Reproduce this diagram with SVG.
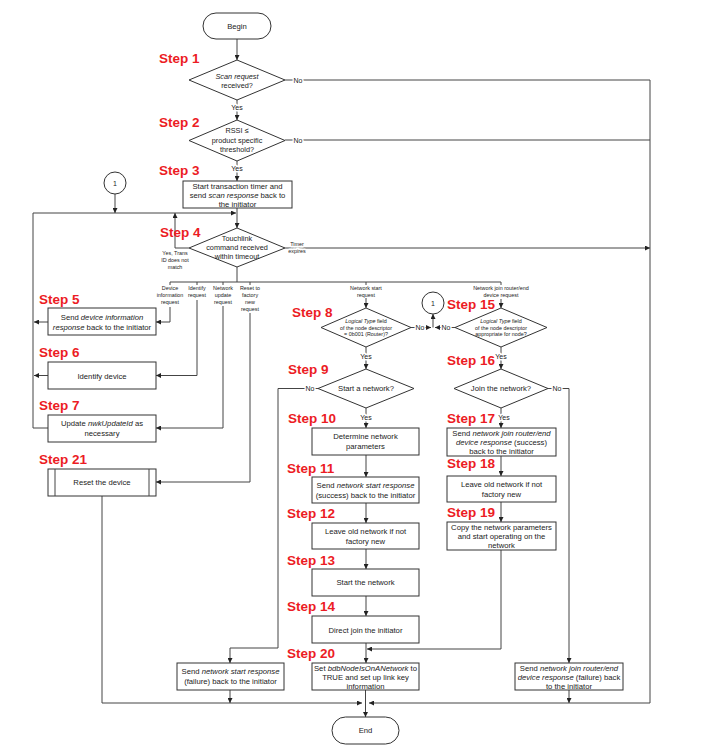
<svg xmlns="http://www.w3.org/2000/svg" width="720" height="751" viewBox="0 0 720 751">
<style>
.bg{fill:#fff}
.box{fill:#fff;stroke:#333;stroke-width:1}
.t{font-family:"Liberation Sans",Arial,sans-serif;font-size:7.7px;fill:#222;text-anchor:middle}
.d{font-size:7.3px}
.sm{font-size:5.4px}
.yn{font-size:7px}
.i{font-style:italic}
.step{font-family:"Liberation Sans",Arial,sans-serif;font-weight:bold;font-size:13.5px;fill:#ec1c24}
.ln{fill:none;stroke:#444;stroke-width:1}
.a{marker-end:url(#ah)}
.halo{paint-order:stroke;stroke:#fff;stroke-width:3px;stroke-linejoin:round}
</style>
<defs>
<marker id="ah" markerUnits="userSpaceOnUse" markerWidth="5" markerHeight="5" refX="5" refY="2.5" orient="auto">
<path d="M0,0 L5,2.5 L0,5 z" fill="#222"/>
</marker>
</defs>
<rect class="bg" width="720" height="751"/>

<g id="connectors">
<path class="ln a" d="M237,39 V60"/>
<path class="ln a" d="M237,100 V120"/>
<path class="ln" d="M285,80 H650"/>
<path class="ln a" d="M237,161 V181"/>
<path class="ln" d="M285,140 H650"/>
<path class="ln a" d="M237,208 V228"/>
<path class="ln a" d="M48,428 H33 V213 H236"/>
<path class="ln a" d="M115,194 V213"/>
<path class="ln a" d="M189,248 H175 V213"/>
<path class="ln a" d="M285,248 H650"/>
<path class="ln" d="M237,267 V282 M170,282 H501 M170,282 V285 M197,282 V285 M223,282 V285 M250,282 V285 M366,282 V285 M501,282 V285"/>
<path class="ln a" d="M170,307 V322 H156"/>
<path class="ln a" d="M48,322 H34"/>
<path class="ln a" d="M197,300 V375.5 H156"/>
<path class="ln a" d="M48,375.5 H34"/>
<path class="ln a" d="M223,306 V428 H156"/>
<path class="ln a" d="M250,313 V482 H156"/>
<path class="ln a" d="M102,496 V703 H362"/>
<path class="ln a" d="M650,80 V703 H369"/>
<path class="ln a" d="M230,690 V703"/>
<path class="ln a" d="M569,690 V703"/>
<path class="ln a" d="M365.5,690 V717"/>
<path class="ln a" d="M366,298 V308"/>
<path class="ln a" d="M501,299 V308"/>
<path class="ln a" d="M411,327.5 H431"/>
<path class="ln a" d="M455,327.5 H435"/>
<path class="ln a" d="M433,327.5 V314"/>
<path class="ln a" d="M366,347 V369"/>
<path class="ln a" d="M501,347 V369"/>
<path class="ln a" d="M318,388.5 H278 V648 H230 V663"/>
<path class="ln a" d="M366,408 V428"/>
<path class="ln a" d="M366,455 V477"/>
<path class="ln a" d="M366,503 V523"/>
<path class="ln a" d="M366,549 V569"/>
<path class="ln a" d="M366,596 V616"/>
<path class="ln a" d="M366,643 V663"/>
<path class="ln a" d="M548,388.5 H569 V663"/>
<path class="ln a" d="M501,408 V428"/>
<path class="ln a" d="M501,456 V476"/>
<path class="ln a" d="M501,502 V522"/>
<path class="ln a" d="M501,550 V649 H367"/>
<text class="t yn halo" x="298" y="82.5">No</text>
<text class="t yn halo" x="237" y="110">Yes</text>
<text class="t yn halo" x="298" y="142.5">No</text>
<text class="t yn halo" x="237" y="171">Yes</text>
<text class="t sm halo" x="175" y="255">Yes, Trans</text>
<text class="t sm halo" x="175" y="262">ID does not</text>
<text class="t sm halo" x="175" y="269">match</text>
<text class="t sm halo" x="297" y="246">Timer</text>
<text class="t sm halo" x="297" y="253">expires</text>
<text class="t sm" x="170" y="290">Device</text>
<text class="t sm" x="170" y="297">information</text>
<text class="t sm" x="170" y="304">request</text>
<text class="t sm" x="197" y="290">Identify</text>
<text class="t sm" x="197" y="297">request</text>
<text class="t sm" x="223" y="290">Network</text>
<text class="t sm" x="223" y="297">update</text>
<text class="t sm" x="223" y="304">request</text>
<text class="t sm" x="250" y="290">Reset to</text>
<text class="t sm" x="250" y="297">factory</text>
<text class="t sm" x="250" y="304">new</text>
<text class="t sm" x="250" y="311">request</text>
<text class="t sm" x="366" y="290">Network start</text>
<text class="t sm" x="366" y="297">request</text>
<text class="t sm" x="501" y="290">Network join router/end</text>
<text class="t sm" x="501" y="297">device request</text>
<text class="t yn halo" x="420" y="330">No</text>
<text class="t yn halo" x="446" y="330">No</text>
<text class="t yn halo" x="366" y="358.5">Yes</text>
<text class="t yn halo" x="501" y="358.5">Yes</text>
<text class="t yn halo" x="310" y="391">No</text>
<text class="t yn halo" x="366" y="419.5">Yes</text>
<text class="t yn halo" x="557" y="391">No</text>
<text class="t yn halo" x="504" y="419.5">Yes</text>
</g>

<g id="begin">
<rect class="box" x="203" y="13" width="68" height="26" rx="13"/>
<text class="t" x="237" y="29">Begin</text>
</g>
<g id="step1">
<text class="step" x="159" y="63">Step 1</text>
<polygon class="box" points="189,80 237,60 285,80 237,100"/>
<text class="t d" x="237" y="79"><tspan class="i">Scan request</tspan></text>
<text class="t d" x="237" y="88">received?</text>
</g>
<g id="step2">
<text class="step" x="159" y="127">Step 2</text>
<polygon class="box" points="189,140.5 237,120 285,140.5 237,161"/>
<text class="t d" x="237" y="133">RSSI ≤</text>
<text class="t d" x="237" y="142.5">product specific</text>
<text class="t d" x="237" y="152">threshold?</text>
</g>
<g id="step3">
<text class="step" x="159" y="175">Step 3</text>
<rect class="box" x="183" y="181" width="109" height="27"/>
<text class="t" x="237.5" y="188.5">Start transaction timer and</text>
<text class="t" x="237.5" y="197.5">send <tspan class="i">scan response</tspan> back to</text>
<text class="t" x="237.5" y="206.5">the initiator</text>
</g>
<g id="connector1-top">
<circle class="box" cx="115" cy="183" r="11"/>
<text class="t" x="115" y="185.5" style="font-size:7px">1</text>
</g>
<g id="step4">
<text class="step" x="160" y="237">Step 4</text>
<polygon class="box" points="189,248 237,228 285,248 237,267"/>
<text class="t d" x="237" y="241">Touchlink</text>
<text class="t d" x="237" y="250">command received</text>
<text class="t d" x="237" y="259">within timeout</text>
</g>
<g id="step5">
<text class="step" x="39" y="304">Step 5</text>
<rect class="box" x="48" y="308" width="108" height="27"/>
<text class="t" x="102" y="320">Send <tspan class="i">device information</tspan></text>
<text class="t" x="102" y="330"><tspan class="i">response</tspan> back to the initiator</text>
</g>
<g id="step6">
<text class="step" x="39" y="357">Step 6</text>
<rect class="box" x="48" y="362" width="108" height="27"/>
<text class="t" x="102" y="378.5">Identify device</text>
</g>
<g id="step7">
<text class="step" x="39" y="410">Step 7</text>
<rect class="box" x="48" y="415" width="108" height="27"/>
<text class="t" x="102" y="425.5">Update <tspan class="i">nwkUpdateId</tspan> as</text>
<text class="t" x="102" y="435.5">necessary</text>
</g>
<g id="step21">
<text class="step" x="39" y="464">Step 21</text>
<rect class="box" x="48" y="469" width="108" height="27"/>
<path class="ln" d="M55,469 V496 M149,469 V496"/>
<text class="t" x="102" y="485">Reset the device</text>
</g>
<g id="step8">
<text class="step" x="292" y="317">Step 8</text>
<polygon class="box" points="321,327.5 366,308 411,327.5 366,347"/>
<text class="t sm" x="366" y="323"><tspan class="i">Logical Type</tspan> field</text>
<text class="t sm" x="366" y="329.5">of the node descriptor</text>
<text class="t sm" x="366" y="336">= 0b001 (Router)?</text>
</g>
<g id="connector1-mid">
<circle class="box" cx="433" cy="303" r="11"/>
<text class="t" x="433" y="305.5" style="font-size:7px">1</text>
</g>
<g id="step15">
<text class="step" x="447" y="309">Step 15</text>
<polygon class="box" points="455,327.5 501,308 547,327.5 501,347"/>
<text class="t sm" x="501" y="323"><tspan class="i">Logical Type</tspan> field</text>
<text class="t sm" x="501" y="329.5">of the node descriptor</text>
<text class="t sm" x="501" y="336">appropriate for node?</text>
</g>
<g id="step9">
<text class="step" x="288" y="374">Step 9</text>
<polygon class="box" points="318,388.5 366,369 414,388.5 366,408"/>
<text class="t" x="366" y="391">Start a network?</text>
</g>
<g id="step16">
<text class="step" x="447" y="365">Step 16</text>
<polygon class="box" points="454,388.5 501,369 548,388.5 501,408"/>
<text class="t" x="501" y="391">Join the network?</text>
</g>
<g id="step10">
<text class="step" x="288" y="423">Step 10</text>
<rect class="box" x="312" y="428" width="107" height="27"/>
<text class="t" x="365.5" y="439">Determine network</text>
<text class="t" x="365.5" y="449">parameters</text>
</g>
<g id="step11">
<text class="step" x="287" y="473">Step 11</text>
<rect class="box" x="312" y="477" width="107" height="26"/>
<text class="t" x="365.5" y="487.5">Send <tspan class="i">network start response</tspan></text>
<text class="t" x="365.5" y="497.5">(success) back to the initiator</text>
</g>
<g id="step12">
<text class="step" x="287" y="518">Step 12</text>
<rect class="box" x="312" y="523" width="107" height="26"/>
<text class="t" x="365.5" y="533.5">Leave old network if not</text>
<text class="t" x="365.5" y="543.5">factory new</text>
</g>
<g id="step13">
<text class="step" x="287" y="565">Step 13</text>
<rect class="box" x="312" y="569" width="107" height="27"/>
<text class="t" x="365.5" y="585">Start the network</text>
</g>
<g id="step14">
<text class="step" x="287" y="611">Step 14</text>
<rect class="box" x="312" y="616" width="107" height="27"/>
<text class="t" x="365.5" y="632.5">Direct join the initiator</text>
</g>
<g id="step20">
<text class="step" x="287" y="658">Step 20</text>
<rect class="box" x="312" y="663" width="107" height="27"/>
<text class="t" x="365.5" y="670.5">Set <tspan class="i">bdbNodeIsOnANetwork</tspan> to</text>
<text class="t" x="365.5" y="679.5">TRUE and set up link key</text>
<text class="t" x="365.5" y="688.5">information</text>
</g>
<g id="step17">
<text class="step" x="447" y="423">Step 17</text>
<rect class="box" x="447" y="428" width="109" height="28"/>
<text class="t" x="501.5" y="435.5">Send <tspan class="i">network join router/end</tspan></text>
<text class="t" x="501.5" y="444.5"><tspan class="i">device response</tspan> (success)</text>
<text class="t" x="501.5" y="453.5">back to the initiator</text>
</g>
<g id="step18">
<text class="step" x="447" y="468">Step 18</text>
<rect class="box" x="447" y="476" width="109" height="26"/>
<text class="t" x="501.5" y="486.5">Leave old network if not</text>
<text class="t" x="501.5" y="496.5">factory new</text>
</g>
<g id="step19">
<text class="step" x="447" y="517">Step 19</text>
<rect class="box" x="447" y="522" width="109" height="28"/>
<text class="t" x="501.5" y="529.5">Copy the network parameters</text>
<text class="t" x="501.5" y="538.5">and start operating on the</text>
<text class="t" x="501.5" y="547.5">network</text>
</g>
<g id="start-failure">
<rect class="box" x="177" y="663" width="107" height="27"/>
<text class="t" x="230.5" y="673.5">Send <tspan class="i">network start response</tspan></text>
<text class="t" x="230.5" y="683.5">(failure) back to the initiator</text>
</g>
<g id="join-failure">
<rect class="box" x="515" y="663" width="108" height="27"/>
<text class="t" x="569" y="670.5">Send <tspan class="i">network join router/end</tspan></text>
<text class="t" x="569" y="679.5"><tspan class="i">device response</tspan> (failure) back</text>
<text class="t" x="569" y="688.5">to the initiator</text>
</g>
<g id="end">
<rect class="box" x="332" y="717" width="67" height="27" rx="13.5"/>
<text class="t" x="365.5" y="733">End</text>
</g>
</svg>
